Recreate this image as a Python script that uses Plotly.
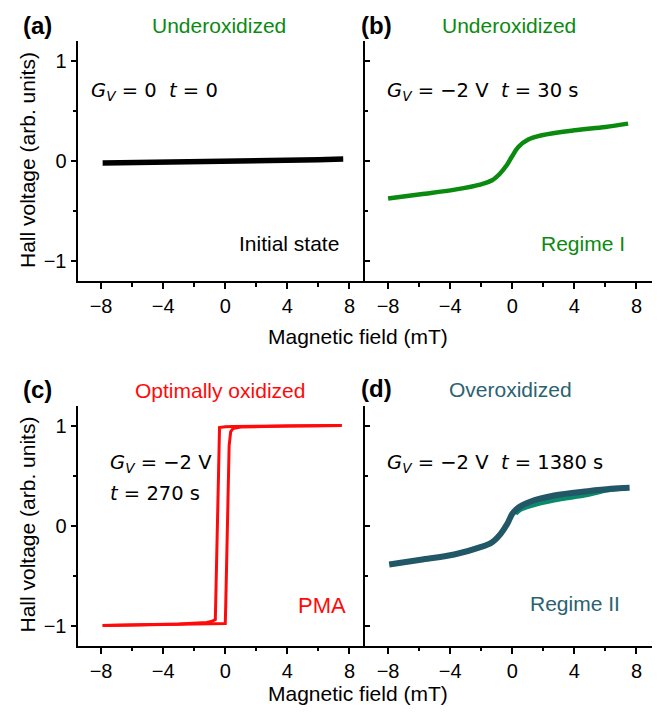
import plotly.graph_objects as go

# ---------------- data ----------------
field_a = [-7.9, -6.0, -4.0, -2.0, 0.0, 2.0, 4.0, 6.0, 7.6]
hall_a = [-0.02, -0.017, -0.013, -0.009, -0.005, 0.001, 0.007, 0.013, 0.019]

field_b = [-8.0, -5.9, -3.7, -2.0, -1.3, -0.8, -0.36, -0.04, 0.39, 1.03, 1.9, 4.0, 6.0, 7.46]
hall_b = [-0.376, -0.333, -0.286, -0.233, -0.193, -0.127, -0.043, 0.04, 0.14, 0.214, 0.257, 0.307, 0.34, 0.374]

field_c_down = [7.5, 4.0, 2.0, 1.0, 0.5, 0.0, -0.3, -0.37, -0.45, -0.55, -0.64, -0.9, -1.2, -3.0, -6.0, -7.9]
hall_c_down = [1.0, 0.998, 0.995, 0.993, 0.99, 0.988, 0.985, 0.98, 0.4, -0.5, -0.94, -0.96, -0.97, -0.985, -0.995, -1.0]
field_c_up = [-7.9, -6.0, -3.0, -1.0, -0.6, -0.2, 0.0, 0.03, 0.12, 0.25, 0.35, 0.5, 1.0, 2.0, 4.0, 7.5]
hall_c_up = [-1.0, -0.995, -0.99, -0.985, -0.983, -0.982, -0.98, -0.8, 0.0, 0.8, 0.94, 0.97, 0.985, 0.99, 0.995, 1.0]

field_d = [-7.93, -5.9, -3.74, -2.05, -1.3, -0.75, -0.32, 0.0, 0.43, 1.19, 2.7, 4.86, 6.37, 7.56]
hall_d = [-0.39, -0.343, -0.29, -0.217, -0.167, -0.083, 0.017, 0.117, 0.183, 0.24, 0.3, 0.343, 0.367, 0.377]
field_d_low = [0.2, 0.5, 1.2, 2.7, 4.86, 6.1, 7.3]
hall_d_low = [0.12, 0.16, 0.2, 0.255, 0.31, 0.355, 0.375]

x_ticks = [-8, -4, 0, 4, 8]
x_minor = [-6, -2, 2, 6]
y_ticks = [-1, 0, 1]
y_minor = [-0.5, 0.5]

titles = ["Underoxidized", "Underoxidized", "Optimally oxidized", "Overoxidized"]
panel_labels = ["(a)", "(b)", "(c)", "(d)"]

# ---------------- style ----------------
W, H = 662, 717
GREEN = "#0b8a10"
RED = "#ff0a0a"
TEAL_TXT = "#2a6272"
TEAL = "#225767"
TEAL_GREEN = "#0a8a6a"
SANS = "Liberation Sans, Arial, sans-serif"
MATH = "DejaVu Sans, sans-serif"

def px(x):
    return x / W

def py(y):
    return 1 - y / H

XR = [-9.52, 8.97]
YR = [-1.2, 1.2]
xdom = [[px(77.5), px(364.5)], [px(364.5), px(651.5)]]
ydom = [[py(281), py(41)], [py(645.5), py(405.5)]]

fig = go.Figure()

# traces
fig.add_trace(go.Scatter(x=field_a, y=hall_a, mode="lines", line=dict(color="black", width=5.5),
                         xaxis="x", yaxis="y"))
fig.add_trace(go.Scatter(x=field_b, y=hall_b, mode="lines", line=dict(color=GREEN, width=4.5, shape="spline"),
                         xaxis="x2", yaxis="y2"))
fig.add_trace(go.Scatter(x=field_c_down, y=hall_c_down, mode="lines", line=dict(color=RED, width=3),
                         xaxis="x3", yaxis="y3"))
fig.add_trace(go.Scatter(x=field_c_up, y=hall_c_up, mode="lines", line=dict(color=RED, width=3),
                         xaxis="x3", yaxis="y3"))
fig.add_trace(go.Scatter(x=field_d_low, y=hall_d_low, mode="lines", line=dict(color=TEAL_GREEN, width=5, shape="spline"),
                         xaxis="x4", yaxis="y4"))
fig.add_trace(go.Scatter(x=field_d, y=hall_d, mode="lines", line=dict(color=TEAL, width=6, shape="spline"),
                         xaxis="x4", yaxis="y4"))

tickfont = dict(family=SANS, size=20, color="black")
layout = dict(width=W, height=H, margin=dict(l=0, r=0, t=0, b=0), showlegend=False,
              paper_bgcolor="white", plot_bgcolor="white")

names_x = ["xaxis", "xaxis2", "xaxis3", "xaxis4"]
names_y = ["yaxis", "yaxis2", "yaxis3", "yaxis4"]
ids_x = ["x", "x2", "x3", "x4"]
ids_y = ["y", "y2", "y3", "y4"]
for i in range(4):
    col = i % 2
    row = i // 2
    layout[names_x[i]] = dict(domain=xdom[col], anchor=ids_y[i], range=XR, tickvals=x_ticks,
                              ticks="outside", ticklen=6, tickwidth=1.5, tickcolor="black",
                              showline=True, linecolor="black", linewidth=2, showgrid=False,
                              zeroline=False, tickfont=tickfont,
                              minor=dict(tickvals=x_minor, ticks="outside", ticklen=3.5, tickwidth=1.5,
                                         tickcolor="black", showgrid=False))
    layout[names_y[i]] = dict(domain=ydom[row], anchor=ids_x[i], range=YR, tickvals=y_ticks,
                              ticks="outside" if col == 0 else "inside", ticklen=5, tickwidth=1.5,
                              tickcolor="black", showline=True, linecolor="black", linewidth=2,
                              showgrid=False, zeroline=False, tickfont=tickfont,
                              showticklabels=(col == 0),
                              minor=dict(tickvals=y_minor, ticks="outside" if col == 0 else "inside",
                                         ticklen=3, tickwidth=1.5, tickcolor="black", showgrid=False))
    # top mirror axis (ticks inside)
    layout["xaxis%d" % (5 + i)] = dict(overlaying=ids_x[i], anchor=ids_y[i], side="top", range=XR,
                                       tickvals=x_ticks + x_minor, ticks="inside", ticklen=4,
                                       tickwidth=1.5, tickcolor="black", showline=True,
                                       linecolor="black", linewidth=2, showgrid=False,
                                       zeroline=False, showticklabels=False)
    # right mirror axis (ticks inside)
    layout["yaxis%d" % (5 + i)] = dict(overlaying=ids_y[i], anchor=ids_x[i], side="right", range=YR,
                                       tickvals=y_ticks, ticks="inside", ticklen=4.5, tickwidth=1.5,
                                       tickcolor="black", showline=True, linecolor="black",
                                       linewidth=2, showgrid=False, zeroline=False,
                                       showticklabels=False,
                                       minor=dict(tickvals=y_minor, ticks="inside", ticklen=2.5,
                                                  tickwidth=1.5, tickcolor="black", showgrid=False))

fig.update_layout(**layout)

ann = []
# panel titles and labels
title_colors = [GREEN, GREEN, RED, TEAL_TXT]
title_pos = [(219, 26), (509, 26), (220, 390), (511, 389)]
label_pos = [(37, 25), (376, 25), (37, 389), (376, 388)]
for i in range(4):
    ann.append(dict(text=titles[i], x=px(title_pos[i][0]), y=py(title_pos[i][1]), xref="paper", yref="paper",
                    showarrow=False, xanchor="center", yanchor="middle",
                    font=dict(family=SANS, size=21, color=title_colors[i])))
    ann.append(dict(text="<b>%s</b>" % panel_labels[i], x=px(label_pos[i][0]), y=py(label_pos[i][1]),
                    xref="paper", yref="paper", showarrow=False, xanchor="center", yanchor="middle",
                    font=dict(family=SANS, size=24, color="black")))

# axis titles
for yc in (160, 524.5):
    ann.append(dict(text="Hall voltage (arb. units)", x=px(27), y=py(yc), xref="paper", yref="paper",
                    showarrow=False, textangle=-90, xanchor="center", yanchor="middle",
                    font=dict(family=SANS, size=21, color="black")))
for yc in (337, 693):
    ann.append(dict(text="Magnetic field (mT)", x=px(357.5), y=py(yc), xref="paper", yref="paper",
                    showarrow=False, xanchor="center", yanchor="middle",
                    font=dict(family=SANS, size=21, color="black")))

sp = "\u00a0"
gv = "<i>G</i><sub><i>V</i></sub>" + sp + "=" + sp
mfont = dict(family=MATH, size=19.5, color="black")
ann.append(dict(text=gv + "0" + sp * 2 + "<i>t</i>" + sp + "=" + sp + "0", x=-8.77, y=0.69,
                xref="x", yref="y", showarrow=False, xanchor="left", yanchor="middle", font=mfont))
ann.append(dict(text=gv + "\u22122" + sp + "V" + sp * 2 + "<i>t</i>" + sp + "=" + sp + "30" + sp + "s",
                x=-8.19, y=0.69, xref="x2", yref="y2", showarrow=False, xanchor="left", yanchor="middle",
                font=mfont))
ann.append(dict(text=gv + "\u22122" + sp + "V", x=-7.53, y=0.62, xref="x3", yref="y3", showarrow=False,
                xanchor="left", yanchor="middle", font=mfont))
ann.append(dict(text="<i>t</i>" + sp + "=" + sp + "270" + sp + "s", x=-7.53, y=0.32, xref="x3", yref="y3",
                showarrow=False, xanchor="left", yanchor="middle", font=mfont))
ann.append(dict(text=gv + "\u22122" + sp + "V" + sp * 2 + "<i>t</i>" + sp + "=" + sp + "1380" + sp + "s",
                x=-8.17, y=0.62, xref="x4", yref="y4", showarrow=False, xanchor="left", yanchor="middle",
                font=mfont))

ann.append(dict(text="Initial state", x=7.46, y=-0.826, xref="x", yref="y", showarrow=False,
                xanchor="right", yanchor="middle", font=dict(family=SANS, size=21, color="black")))
ann.append(dict(text="Regime I", x=7.42, y=-0.826, xref="x2", yref="y2", showarrow=False,
                xanchor="right", yanchor="middle", font=dict(family=SANS, size=21, color=GREEN)))
ann.append(dict(text="PMA", x=7.89, y=-0.80, xref="x3", yref="y3", showarrow=False,
                xanchor="right", yanchor="middle", font=dict(family=SANS, size=22, color=RED)))
ann.append(dict(text="Regime II", x=7.1, y=-0.775, xref="x4", yref="y4", showarrow=False,
                xanchor="right", yanchor="middle", font=dict(family=SANS, size=21, color=TEAL_TXT)))

fig.update_layout(annotations=ann)
fig.write_html("out.html")
